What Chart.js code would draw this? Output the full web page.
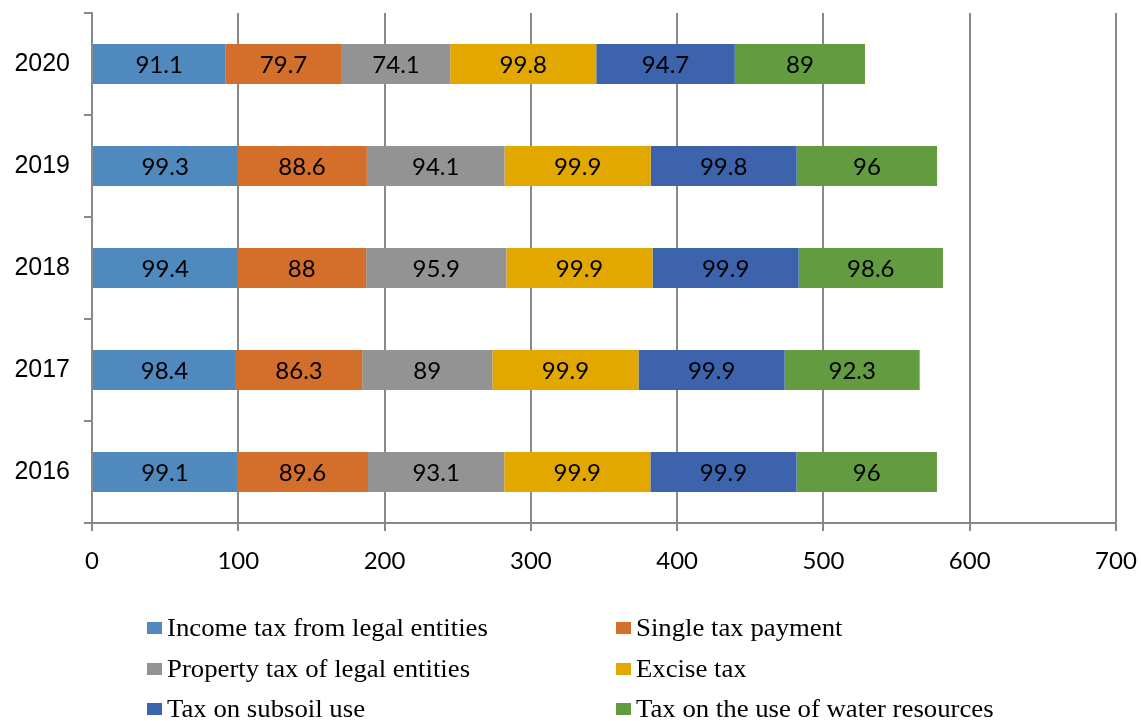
<!DOCTYPE html>
<html>
<head>
<meta charset="utf-8">
<script src="https://cdn.jsdelivr.net/npm/chart.js@4.4.1/dist/chart.umd.min.js"></script>
<style>
  html, body { margin: 0; padding: 0; background: #fff; }
  #wrap { position: relative; width: 1141px; height: 721px; }
  #chart { position: absolute; left: 0; top: 0; }
  .legend-item {
    position: absolute;
    height: 30px;
    display: flex;
    align-items: center;
    font-family: "Liberation Serif", "Times New Roman", serif;
    font-size: 25px;
    color: #000;
    white-space: nowrap;
  }
  .legend-item span.box { display: inline-block; width: 15px; height: 12px; margin-right: 5px; flex: none; }
  .legend-item span.txt { display: inline-block; transform: scaleX(1.07); transform-origin: left center; }
</style>
</head>
<body>
<div id="wrap">
  <canvas id="chart" width="1141" height="721"></canvas>
</div>
<script>
const years = ['2016', '2017', '2018', '2019', '2020'];
const seriesNames = [
  'Income tax from legal entities',
  'Single tax payment',
  'Property tax of legal entities',
  'Excise tax',
  'Tax on subsoil use',
  'Tax on the use of water resources'
];
const incomeTax = [99.1, 98.4, 99.4, 99.3, 91.1];
const singleTax = [89.6, 86.3, 88, 88.6, 79.7];
const propertyTax = [93.1, 89, 95.9, 94.1, 74.1];
const exciseTax = [99.9, 99.9, 99.9, 99.9, 99.8];
const subsoilTax = [99.9, 99.9, 99.9, 99.8, 94.7];
const waterTax = [96, 92.3, 98.6, 96, 89];
const xTicks = [0, 100, 200, 300, 400, 500, 600, 700];

const colors = ['#4f89bd', '#d46e2b', '#939393', '#e2a800', '#3d63ad', '#639b40'];
const values = [incomeTax, singleTax, propertyTax, exciseTax, subsoilTax, waterTax];
const gridColor = '#898989';

// writes each segment's value in the middle of its bar
const barLabels = {
  id: 'barLabels',
  afterDatasetsDraw(chart) {
    const ctx = chart.ctx;
    ctx.save();
    ctx.font = '24px Lato, "Open Sans", sans-serif';
    ctx.fillStyle = '#000';
    ctx.textAlign = 'center';
    ctx.textBaseline = 'middle';
    chart.data.datasets.forEach((ds, i) => {
      chart.getDatasetMeta(i).data.forEach((bar, j) => {
        const p = bar.getProps(['x', 'y', 'base'], true);
        ctx.fillText(String(ds.data[j]), (p.x + p.base) / 2, p.y + 1);
      });
    });
    ctx.restore();
  }
};

new Chart(document.getElementById('chart'), {
  type: 'bar',
  data: {
    labels: years,
    datasets: seriesNames.map((name, i) => ({
      label: name,
      data: values[i],
      backgroundColor: colors[i],
      borderWidth: 0,
      categoryPercentage: 1,
      barPercentage: 0.39
    }))
  },
  options: {
    indexAxis: 'y',
    responsive: false,
    animation: false,
    layout: { padding: { top: 13, right: 25, bottom: 138, left: 0 } },
    plugins: {
      legend: { display: false },
      tooltip: { enabled: false }
    },
    scales: {
      x: {
        stacked: true,
        min: 0,
        max: 700,
        afterBuildTicks: (scale) => { scale.ticks = xTicks.map(v => ({ value: v })); },
        afterFit: (scale) => {
          scale.height = 60;
          scale.paddingLeft = 0;
          scale.paddingRight = 0;
        },
        border: { color: gridColor, width: 2 },
        grid: { color: gridColor, lineWidth: 2, tickLength: 8 },
        ticks: {
          padding: 16,
          color: '#000',
          font: { family: 'Lato, "Open Sans", sans-serif', size: 24 }
        }
      },
      y: {
        stacked: true,
        reverse: true,
        afterFit: (scale) => {
          scale.width = 92;
          scale.paddingTop = 0;
          scale.paddingBottom = 0;
        },
        border: { color: gridColor, width: 2 },
        grid: { color: gridColor, lineWidth: 2, drawOnChartArea: false, tickLength: 8, offset: true },
        ticks: {
          padding: 14,
          color: '#000',
          font: { family: '"Liberation Sans", Arial, sans-serif', size: 25 }
        }
      }
    }
  },
  plugins: [barLabels]
});

// two-column legend under the plot
const legendPos = [[147, 613], [616, 613], [147, 654], [616, 654], [147, 694], [616, 694]];
const wrap = document.getElementById('wrap');
seriesNames.forEach((name, i) => {
  const item = document.createElement('div');
  item.className = 'legend-item';
  item.style.left = legendPos[i][0] + 'px';
  item.style.top = legendPos[i][1] + 'px';
  const box = document.createElement('span');
  box.className = 'box';
  box.style.background = colors[i];
  const txt = document.createElement('span');
  txt.className = 'txt';
  txt.textContent = name;
  item.appendChild(box);
  item.appendChild(txt);
  wrap.appendChild(item);
});
</script>
</body>
</html>
